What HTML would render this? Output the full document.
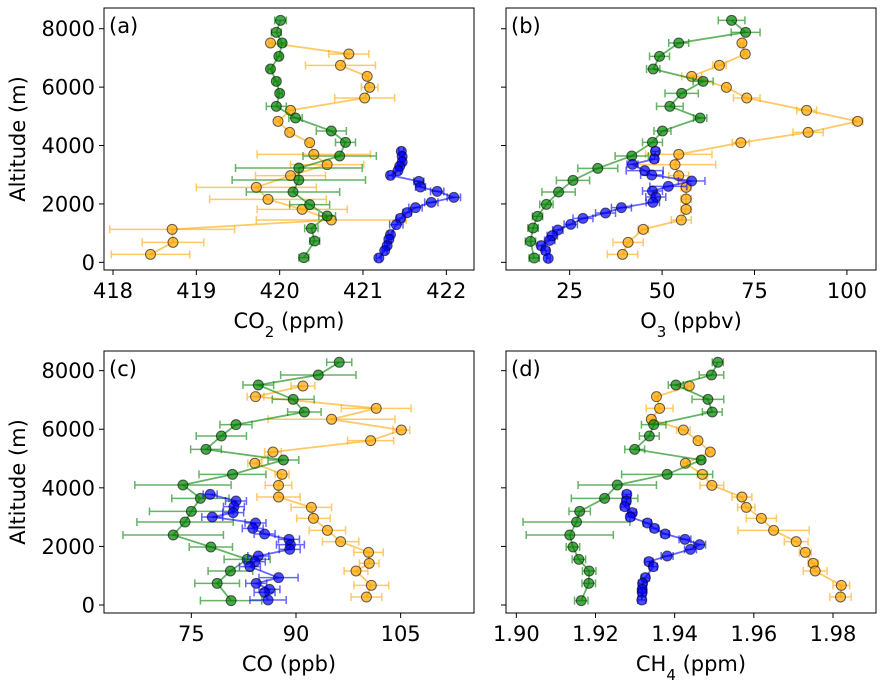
<!DOCTYPE html>
<html><head><meta charset="utf-8"><style>
body{margin:0;background:#fff;}
svg{display:block;font-family:"DejaVu Sans","Liberation Sans",sans-serif;}
</style></head><body>
<svg id="chart" width="888" height="684"></svg>
<script>
// ---- data: [value, altitude, error] ----
const co2Green=[[420.01,8288,.07],[419.96,7877,.06],[420.03,7512,.04],[419.99,7055,.03],[419.89,6621,.03],[419.96,6199,.03],[420.00,5788,.03],[419.96,5343,.12],[420.19,4943,.08],[420.62,4498,.18],[420.79,4110,.12],[420.72,3642,.44],[420.23,3231,.76],[420.23,2820,.8],[420.16,2409,.56],[420.36,1975,.24],[420.57,1587,.1],[420.38,1164,.08],[420.42,731,.06],[420.29,160,.06]];
const co2Orange=[[419.89,7512,.02],[420.83,7135,.24],[420.73,6747,.42],[421.05,6370,.02],[421.08,5993,.1],[421.02,5628,.36],[420.13,5206,.03],[419.98,4829,.03],[420.12,4452,.03],[420.36,4098,.03],[420.41,3699,.68],[420.57,3345,.44],[420.13,2968,.42],[419.72,2569,.72],[419.86,2158,.7],[420.27,1815,.54],[420.62,1450,.9],[418.71,1130,.75],[418.72,685,.37],[418.45,274,.47]];
const co2Blue=[[421.46,3801,.03],[421.47,3619,.03],[421.47,3436,.03],[421.44,3288,.03],[421.42,3139,.03],[421.33,2980,.03],[421.67,2774,.06],[421.69,2580,.06],[421.89,2432,.08],[422.09,2226,.08],[421.82,2055,.08],[421.63,1872,.08],[421.53,1701,.05],[421.45,1507,.05],[421.40,1290,.08],[421.33,947,.03],[421.31,788,.03],[421.29,571,.03],[421.26,400,.03],[421.19,148,.03]];
const o3Green=[[68.8,8288,3.6],[72.6,7877,3.9],[54.5,7512,2.7],[49.3,7055,2.7],[47.6,6621,1.8],[61.1,6199,2.7],[55.3,5788,4.5],[52.1,5343,3.6],[60.3,4943,1.8],[50.1,4498,2.3],[47.4,4110,2.7],[41.8,3642,4.5],[32.6,3219,5.4],[25.9,2808,4.5],[22.0,2409,4.5],[18.7,1986,1.8],[16.3,1575,1.4],[15.1,1176,1.4],[14.4,719,1.4],[15.4,148,1.4]];
const o3Orange=[[71.6,7512,.5],[72.5,7135,.5],[65.5,6747,1.8],[58.0,6370,2.7],[67.4,5993,.5],[72.9,5628,3.6],[89.1,5206,2.7],[102.9,4829,1.4],[89.5,4452,4.1],[71.3,4098,2.3],[54.5,3699,9],[53.5,3345,11],[54.5,2968,2.7],[56.5,2569,1.4],[56.5,2169,1.4],[56.5,1815,1.4],[55.2,1450,2.7],[44.9,1130,1.4],[40.8,685,4.1],[39.3,274,4.1]];
const o3Blue=[[48.2,3801,1],[47.9,3539,1],[42.0,3356,1.5],[45.3,3139,5],[47.2,2991,3],[58.0,2785,3.6],[51.7,2603,5],[47.4,2443,2.7],[48.3,2238,2.7],[47.5,2055,1.8],[39.0,1872,2.7],[34.7,1690,2.7],[28.6,1507,2.7],[25.3,1301,1.8],[21.8,1107,1.4],[20.3,913,1.4],[19.6,753,1.4],[17.3,571,1],[18.5,400,1],[19.2,137,.5]];
const coGreen=[[96.2,8285,1.8],[93.2,7852,5.4],[84.6,7511,2.2],[89.6,7021,3.0],[91.2,6589,2.4],[81.4,6157,2.3],[79.3,5770,3.6],[77.1,5314,2.2],[88.2,4950,2.2],[80.9,4461,4.8],[73.8,4097,6.9],[76.3,3642,4.1],[75.0,3198,6.0],[74.1,2834,6.9],[72.4,2390,7.2],[77.8,1980,3.1],[83.0,1559,3.3],[80.6,1161,3.2],[78.7,740,3.2],[80.7,148,4.4]];
const coOrange=[[91.0,7477,1.7],[84.2,7113,1.2],[101.5,6714,5.0],[95.1,6339,9.1],[105.1,5975,1.2],[100.7,5610,3.3],[86.7,5223,1.2],[84.1,4837,1.0],[88.0,4461,1.0],[87.5,4085,1.9],[87.5,3687,3.1],[92.2,3334,2.9],[92.5,2959,2.4],[94.5,2549,2.6],[96.4,2162,2.6],[100.4,1798,2.1],[100.5,1423,1.4],[98.6,1161,1.7],[100.8,671,2.5],[100.1,273,2.2]];
const coBlue=[[77.7,3778,1],[81.4,3551,1.5],[81.1,3357,1.5],[81.0,3152,1.5],[78.0,3004,1.5],[84.2,2799,1.5],[83.8,2617,1.5],[85.5,2424,1.5],[89.0,2242,1.5],[89.2,2060,2],[89.1,1900,1.5],[84.6,1673,1.5],[84.1,1479,1.5],[83.4,1309,1.5],[87.5,933,2.8],[84.3,740,1.5],[86.2,535,1.5],[85.5,432,1.5],[86.0,171,2.6]];
const ch4Green=[[1.9509,8285,.0014],[1.9493,7852,.0031],[1.9403,7511,.0019],[1.9484,7021,.004],[1.9495,6589,.0025],[1.9347,6157,.0031],[1.9336,5770,.0025],[1.9299,5314,.0025],[1.9467,4950,.0008],[1.9381,4461,.0115],[1.9255,4097,.0099],[1.9223,3642,.0084],[1.9160,3198,.0027],[1.9152,2834,.0135],[1.9135,2390,.011],[1.9143,1980,.0017],[1.9158,1559,.0017],[1.9184,1161,.0017],[1.9183,740,.0017],[1.9164,148,.0017]];
const ch4Orange=[[1.9437,7477,.0005],[1.9354,7113,.0005],[1.9362,6714,.0034],[1.9341,6339,.0009],[1.9422,5975,.0017],[1.9459,5610,.0005],[1.9490,5223,.0005],[1.9427,4837,.0005],[1.9470,4461,.0013],[1.9494,4085,.003],[1.9570,3687,.0025],[1.9581,3334,.0022],[1.9619,2959,.0038],[1.9650,2549,.009],[1.9707,2162,.003],[1.9730,1798,.0015],[1.9750,1423,.0013],[1.9755,1161,.003],[1.9821,671,.0021],[1.9819,273,.0027]];
const ch4Blue=[[1.9279,3778,.001],[1.9278,3551,.001],[1.9274,3357,.001],[1.9293,3152,.001],[1.9288,3004,.001],[1.9331,2799,.001],[1.9349,2617,.001],[1.9376,2424,.001],[1.9426,2242,.0015],[1.9463,2060,.0015],[1.9440,1900,.0015],[1.9381,1673,.0015],[1.9335,1479,.001],[1.9346,1309,.001],[1.9326,933,.001],[1.9319,740,.001],[1.9318,535,.001],[1.9318,432,.001],[1.9317,171,.001]];
const altTicks=[0,2000,4000,6000,8000];
const co2Ticks=[418,419,420,421,422];
const o3Ticks=[25,50,75,100];
const coTicks=[75,90,105];
const ch4Ticks=[1.90,1.92,1.94,1.96,1.98];
const ch4TickLabels=["1.90","1.92","1.94","1.96","1.98"];

const NS="http://www.w3.org/2000/svg";
const svg=document.getElementById('chart');
function mk(tag,attrs,parent){const e=document.createElementNS(NS,tag);for(const k in attrs)e.setAttribute(k,attrs[k]);(parent||svg).appendChild(e);return e;}

const panels=[
 {id:'a',L:104,R:474,T:8,B:270,x:v=>103+(30+(v-418)*250)/3,y:a=>8+(763-a*0.0876)/3,ticks:co2Ticks,lab:co2Ticks.map(String),xl:'CO<tspan baseline-shift="sub" font-size="15">2</tspan> (ppm)',yl:true,s:[[co2Orange,'#ffa500'],[co2Green,'green'],[co2Blue,'blue']]},
 {id:'b',L:506,R:876,T:8,B:270,x:v=>493+(230+(v-25)*11.09)/3,y:a=>8+(763-a*0.0876)/3,ticks:o3Ticks,lab:o3Ticks.map(String),xl:'O<tspan baseline-shift="sub" font-size="15">3</tspan> (ppbv)',yl:false,s:[[o3Orange,'#ffa500'],[o3Green,'green'],[o3Blue,'blue']]},
 {id:'c',L:104,R:474,T:351,B:613,x:v=>103+(265+(v-75)*20.93)/3,y:a=>350+(765-a*0.08788)/3,ticks:coTicks,lab:coTicks.map(String),xl:'CO (ppb)',yl:true,s:[[coOrange,'#ffa500'],[coGreen,'green'],[coBlue,'blue']]},
 {id:'d',L:506,R:876,T:351,B:613,x:v=>493+(70+(v-1.90)*11875)/3,y:a=>350+(765-a*0.08788)/3,ticks:ch4Ticks,lab:ch4TickLabels,xl:'CH<tspan baseline-shift="sub" font-size="15">4</tspan> (ppm)',yl:false,s:[[ch4Orange,'#ffa500'],[ch4Green,'green'],[ch4Blue,'blue']]}
];
const names={'#ffa500':'orange','green':'green','blue':'blue'};
panels.forEach(p=>{
 const g=mk('g',{});
 
 
 const clipId='clip'+p.id;
 const cp=mk('clipPath',{id:clipId},g);mk('rect',{x:p.L,y:p.T,width:p.R-p.L,height:p.B-p.T},cp);
 p.s.forEach(([data,col])=>{
  const sg=mk('g',{'clip-path':'url(#'+clipId+')'},g);
  
  
  data.forEach(d=>{
   const y=p.y(d[1]),x1=p.x(d[0]-d[2]),x2=p.x(d[0]+d[2]);
   const eb=mk('path',{d:`M${x1},${y}H${x2}M${x1},${y-4}V${y+4}M${x2},${y-4}V${y+4}`,stroke:col,'stroke-opacity':0.6,'stroke-width':1.5,fill:'none'},sg);
   
   
  });
  const ln=mk('polyline',{points:data.map(d=>p.x(d[0])+','+p.y(d[1])).join(' '),stroke:col,'stroke-opacity':0.6,'stroke-width':1.8,fill:'none'},sg);
  
  
  data.forEach(d=>{
   const c=mk('circle',{cx:p.x(d[0]),cy:p.y(d[1]),r:5,fill:col,'fill-opacity':0.7,stroke:'#000','stroke-opacity':0.6,'stroke-width':1},sg);
   
   
  });
 });
 const fr=mk('rect',{x:p.L,y:p.T,width:p.R-p.L,height:p.B-p.T,fill:'none',stroke:'#000','stroke-width':1},g);
 
 
 p.ticks.forEach((t,i)=>{
  const x=p.x(t);
  mk('line',{x1:x,x2:x,y1:p.B,y2:p.B+5,stroke:'#000'},g);
  const tx=mk('text',{x:x,y:p.B+28,'text-anchor':'middle','font-size':21},g);tx.textContent=p.lab[i];
  
  
 });
 altTicks.forEach(a=>{
  const y=p.y(a);
  mk('line',{x1:p.L-5,x2:p.L,y1:y,y2:y,stroke:'#000'},g);
  if(p.yl){const tx=mk('text',{x:p.L-9,y:y+7.5,'text-anchor':'end','font-size':21},g);tx.textContent=String(a);
   
   }
 });
 const xl=mk('text',{x:(p.L+p.R)/2,y:p.B+58,'text-anchor':'middle','font-size':21},g);xl.innerHTML=p.xl;
 
 
 if(p.yl){const cy=(p.T+p.B)/2;const yl=mk('text',{x:25,y:cy,'text-anchor':'middle','font-size':21,transform:`rotate(-90 25 ${cy})`},g);yl.textContent='Altitude (m)';
  
  }
 const pl=mk('text',{x:p.L+5,y:p.T+25,'font-size':21},g);pl.textContent='('+p.id+')';
 
 
});
</script>
</body></html>
